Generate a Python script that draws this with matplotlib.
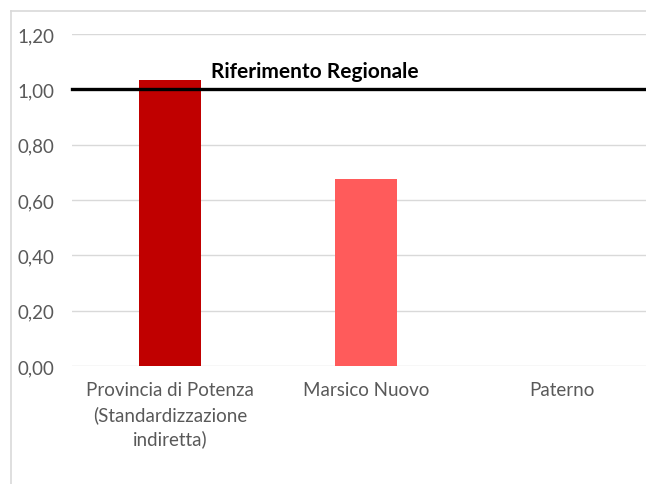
import matplotlib
matplotlib.use("Agg")
import matplotlib.pyplot as plt
from matplotlib.lines import Line2D

categories = ["Provincia di Potenza\n(Standardizzazione\nindiretta)", "Marsico Nuovo", "Paterno"]
values = [1.034, 0.676, 0.0]
bar_colors = ["#C00000", "#FF5B5B", "#FF5B5B"]
reference_value = 1.0
reference_label = "Riferimento Regionale"
yticks = [0.0, 0.2, 0.4, 0.6, 0.8, 1.0, 1.2]
ytick_labels = ["0,00", "0,20", "0,40", "0,60", "0,80", "1,00", "1,20"]

W, H = 646, 485
fig = plt.figure(figsize=(W / 100, H / 100), dpi=100)
plt.rcParams['font.family'] = ['Lato', 'DejaVu Sans']

# outer chart frame (cropped at right/bottom)
fig.add_artist(Line2D([11 / W, 11 / W], [0, 1 - 12 / H], color="#d9d9d9", lw=1.2))
fig.add_artist(Line2D([11 / W, 1], [1 - 12 / H, 1 - 12 / H], color="#d9d9d9", lw=1.2))

left = 72 / W
bottom = (H - 367) / H
width = 588 / W
height = (367 - 35) / H
ax = fig.add_axes([left, bottom, width, height])
ax.set_xlim(-0.5, 2.5)
ax.set_ylim(0, 1.2)

x = list(range(len(categories)))
ax.bar(x, values, width=0.316, color=bar_colors, zorder=3)

ax.set_yticks(yticks)
ax.set_yticklabels(ytick_labels)
ax.yaxis.grid(True, color="#d9d9d9", lw=1.0, zorder=0)
ax.set_axisbelow(True)
for s in ax.spines.values():
    s.set_visible(False)
ax.tick_params(axis="y", length=0, pad=13, labelsize=13.5, labelcolor="#595959")
ax.tick_params(axis="x", length=0, pad=11, labelsize=13.5, labelcolor="#595959")
ax.set_xticks(x)
ax.set_xticklabels(categories, linespacing=1.45)

ax.axhline(reference_value, color="black", lw=2.4, zorder=4, clip_on=False)
ax.text(0.209, 1.066, reference_label, fontsize=15, fontweight="bold",
        color="black", ha="left", va="center", zorder=5)

fig.savefig("out.png", dpi=100)
